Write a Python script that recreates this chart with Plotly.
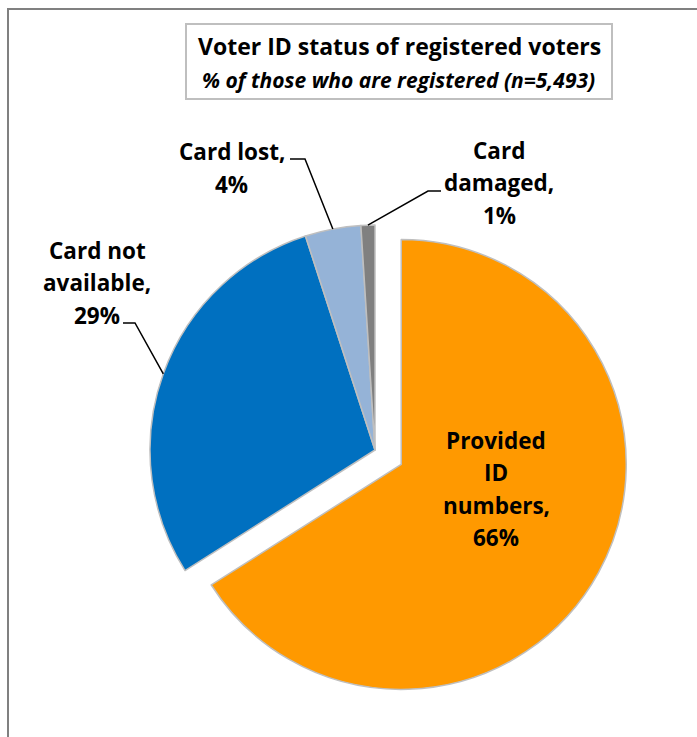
import math
import plotly.graph_objects as go

# Survey breakdown of voter ID status
labels = ["Provided<br>ID<br>numbers", "Card not<br>available", "Card lost", "Card<br>damaged"]
values = [66, 29, 4, 1]
colors = ["#FF9900", "#0070C0", "#95B3D7", "#808080"]
pulls = [0.133, 0, 0, 0]

title = "Voter ID status of registered voters"
subtitle = "% of those who are registered (n=5,493)"

W, H = 697, 737
FONT = "Open Sans"


def px(x):
    return x / W


def py(y):
    return 1 - y / H


# Pie box (pixels): unpulled centre and radius
CX, CY, R = 375, 450, 225
box = R * (1 + max(pulls))

fig = go.Figure(
    go.Pie(
        labels=labels,
        values=values,
        sort=False,
        direction="clockwise",
        rotation=0,
        pull=pulls,
        marker=dict(colors=colors, line=dict(color="#BFBFBF", width=1.5)),
        textinfo="none",
        hoverinfo="skip",
        showlegend=False,
        domain=dict(x=[px(CX - box), px(CX + box)], y=[py(CY + box), py(CY - box)]),
    )
)

total = sum(values)
cum = 0
mid_angles = []
for v in values:
    mid_angles.append((cum + v / 2) / total * 360)
    cum += v

# Label placement: text centre, and for outside labels the leader-line elbow
label_pos = [
    dict(x=496, y=489, line=None),
    dict(x=97, y=283, line=[(123, 323), (135, 323)]),
    dict(x=232, y=168, line=[(290, 159), (305, 159)]),
    dict(x=499, y=183, line=[(441, 191), (428, 191)]),
]
LINE_H = 32.5
FS = 22.5

annotations = []
shapes = []
for lab, v, mid, pos in zip(labels, values, mid_angles, label_pos):
    lines = lab.split("<br>")
    lines[-1] += ","
    lines.append(f"{v}%")
    n = len(lines)
    for i, t in enumerate(lines):
        yc = pos["y"] + (i - (n - 1) / 2) * LINE_H
        annotations.append(dict(
            x=px(pos["x"]), y=py(yc), xref="paper", yref="paper",
            text=f"<b>{t}</b>", showarrow=False, xanchor="center", yanchor="middle",
            font=dict(family=FONT, size=FS, color="black"),
        ))
    if pos["line"]:
        a = math.radians(mid)
        ex = CX + R * math.sin(a)
        ey = CY - R * math.cos(a)
        (x0, y0), (x1, y1) = pos["line"]
        shapes.append(dict(
            type="path", xref="paper", yref="paper",
            path=f"M {px(x0)} {py(y0)} L {px(x1)} {py(y1)} L {px(ex)} {py(ey)}",
            line=dict(color="black", width=1.5),
        ))

# Title box
shapes.append(dict(type="rect", xref="paper", yref="paper",
                   x0=px(186), x1=px(612), y0=py(99), y1=py(24),
                   line=dict(color="#BFBFBF", width=2), fillcolor="white", layer="below"))
annotations.append(dict(x=px(399), y=py(46), xref="paper", yref="paper", showarrow=False,
                        text=f"<b>{title}</b>", font=dict(family=FONT, size=23, color="black"),
                        xanchor="center", yanchor="middle"))
annotations.append(dict(x=px(398), y=py(80), xref="paper", yref="paper", showarrow=False,
                        text=f"<b><i>{subtitle}</i></b>", font=dict(family=FONT, size=21, color="black"),
                        xanchor="center", yanchor="middle"))

# Chart frame (left and top edges)
shapes.append(dict(type="line", xref="paper", yref="paper", x0=px(8), x1=px(8), y0=0, y1=py(8),
                   line=dict(color="#808080", width=2)))
shapes.append(dict(type="line", xref="paper", yref="paper", x0=px(8), x1=1, y0=py(9), y1=py(9),
                   line=dict(color="#808080", width=2)))

fig.update_layout(
    width=W, height=H,
    margin=dict(l=0, r=0, t=0, b=0),
    paper_bgcolor="white", plot_bgcolor="white",
    annotations=annotations, shapes=shapes,
)

fig.write_html("out.html")
